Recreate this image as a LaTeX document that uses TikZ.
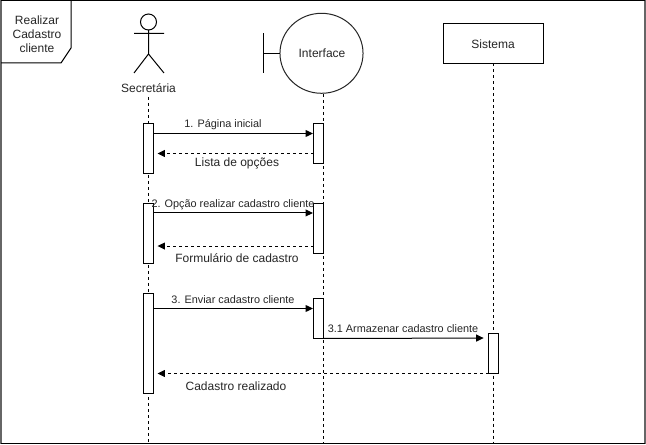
\documentclass[tikz,border=0pt]{standalone}
\usepackage{fontspec}
\setmainfont{Liberation Sans}
\usetikzlibrary{arrows.meta,shapes.geometric}
\tikzset{
  x=0.75pt,y=-0.75pt,
  every node/.style={text=black!85,inner sep=0pt,outer sep=0pt},
  line/.style={draw=black,line width=0.75pt},
  life/.style={draw=black,line width=0.75pt,dash pattern=on 2.25pt off 2.25pt},
  bar/.style={draw=black,fill=white,line width=0.75pt,minimum width=7.5pt},
  msg/.style={line,-{Triangle[length=5.6pt,width=5.2pt]},shorten >=0.4pt},
  ret/.style={life,-{Triangle[length=5.6pt,width=5.2pt]},shorten >=3pt},
  big/.style={font=\fontsize{9}{10.5}\selectfont},
  small/.style={font=\fontsize{8.15}{9}\selectfont},
}
\begin{document}
\begin{tikzpicture}
\useasboundingbox (0,0) rectangle (646,445);
% frame
\fill[white] (0,0) rectangle (646,445);
\draw[line,draw=black!60,line width=1.1pt] (1,0.5) rectangle (645,443.5);
\draw[line,line width=0.9pt] (1,0.5) -- (645,0.5);
\draw[line,line width=0.9pt] (1,443.5) -- (645,443.5);
\draw[line] (71,0.5) -- (71,48) -- (61,63) -- (1,63);
\node[big,align=center] (title) at (37,34) {Realizar\\Cadastro\\cliente};
% actor
\node[draw=black,line width=0.75pt,circle,minimum size=12pt,fill=white] (head) at (148.5,22) {};
\coordinate (hip) at (148.5,54);
\coordinate (armL) at (134,33.5);
\coordinate (armR) at (164,33.5);
\coordinate (footL) at (134,73);
\coordinate (footR) at (164,73);
\draw[line] (head.south) -- (hip) (armL) -- (armR) (footL) -- (hip) -- (footR);
\node[big] (sec) at (148.5,88) {Secretária};
% boundary
\node[draw=black!85,line width=0.75pt,ellipse,minimum width=62.3pt,minimum height=60pt,fill=white] (iface) at (321.5,53.3) {};
\node[big] (ifacelabel) at (322,53.5) {Interface};
\coordinate (barT) at (263.5,33.5);
\coordinate (barB) at (263.5,73);
\coordinate (barM) at (263.5,53.3);
\draw[line] (barT) -- (barB) (barM) -- (iface.west);
% system
\node[draw=black,line width=0.75pt,minimum width=75pt,minimum height=30pt] (sis) at (493.5,43.5) {};
\node[big] (sislabel) at (493,44.5) {Sistema};
% lifelines
\coordinate (e1) at (148.5,443.5);
\coordinate (e2) at (323.5,443.5);
\coordinate (e3) at (493.5,443.5);
\coordinate (s1) at (148.5,97);
\coordinate (s2) at (323.5,94);
\draw[life] (s1) -- (e1);
\draw[life] (s2) -- (e2);
\draw[life] (sis.south) -- (e3);
% activations
\node[bar,minimum height=37.5pt] (a1) at (148.5,148.5) {};
\node[bar,minimum height=45pt] (a2) at (148.5,233.5) {};
\node[bar,minimum height=75pt] (a3) at (148.5,343.5) {};
\node[bar,minimum height=30pt] (b1) at (318.5,143.5) {};
\node[bar,minimum height=37.5pt] (b2) at (318.5,228.5) {};
\node[bar,minimum height=30pt] (b3) at (318.5,318.5) {};
\node[bar,minimum height=30pt] (c1) at (493.5,353.5) {};
% messages
\draw[msg] ([yshift=-7.5pt]a1.north east) -- ([yshift=-7.5pt]b1.north west);
\node[small] (l1) at (223,125) {1. Página inicial};
\draw[ret] ([yshift=-7.5pt]b1.west) -- ([yshift=-7.5pt]b1.west -| a1.east);
\node[big] (l2) at (237,163) {Lista de opções};
\draw[msg] ([yshift=-7.1pt]a2.north east) -- ([yshift=-7.1pt]b2.north west);
\node[small] (l3) at (233,205) {2. Opção realizar cadastro cliente};
\draw[ret] ([yshift=-31.9pt]b2.north west) -- ([yshift=-31.9pt]b2.north west -| a2.east);
\node[big] (l4) at (237,258) {Formulário de cadastro};
\draw[msg] ([yshift=-7.5pt]b3.north west -| a3.east) -- ([yshift=-7.5pt]b3.north west);
\node[small] (l5) at (233,300) {3. Enviar cadastro cliente};
\draw[msg,shorten >=3.6pt] (b3.south east) -- ([yshift=-3.4pt]c1.north west);
\node[small] (l6) at (403,329) {3.1 Armazenar cadastro cliente};
\draw[ret] (c1.south west) -- (c1.south west -| a3.east);
\node[big] (l7) at (236,386) {Cadastro realizado};
\end{tikzpicture}
\end{document}
